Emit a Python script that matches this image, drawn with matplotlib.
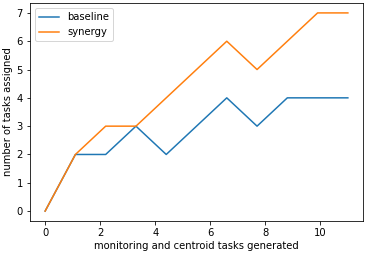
import numpy as np
import matplotlib
matplotlib.use("Agg")
import matplotlib.pyplot as plt

x = [0, 1.1, 2.2, 3.3, 4.4, 5.5, 6.6, 7.7, 8.8, 9.9, 11.0]
baseline = [0, 2, 2, 3, 2, 3, 4, 3, 4, 4, 4]
synergy = [0, 2, 3, 3, 4, 5, 6, 5, 6, 7, 7]

dpi = 72
W, H = 372, 255
fig = plt.figure(figsize=(W / dpi, H / dpi), dpi=dpi)
l, r, t, b = 30, 363, 3, 221
ax = fig.add_axes([l / W, 1 - b / H, (r - l) / W, (b - t) / H])
ax.plot(x, baseline, label="baseline")
ax.plot(x, synergy, label="synergy")
ax.set_xlabel("monitoring and centroid tasks generated", labelpad=3)
ax.set_ylabel("number of tasks assigned")
ax.legend(loc="upper left")
fig.savefig("out.png", dpi=dpi)
